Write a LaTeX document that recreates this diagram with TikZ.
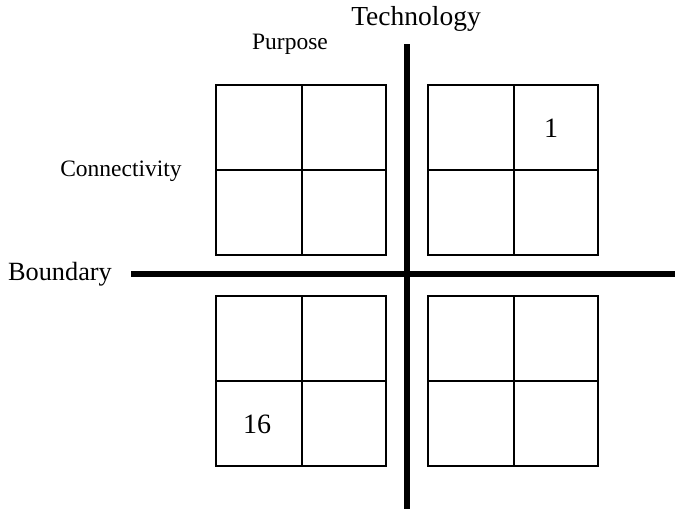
\documentclass[tikz,border=0pt]{standalone}
\usepackage{fontspec}
\setmainfont{Liberation Serif}
\begin{document}
\begin{tikzpicture}[x=1pt,y=-1pt,
  axis/.style={line width=5.5pt},
  cellgrid/.style={line width=1.8pt},
  lbl/.style={inner sep=0pt,font=\fontsize{23.5}{26}\selectfont},
  techlbl/.style={inner sep=0pt,font=\fontsize{27.5}{30}\selectfont},
  boundlbl/.style={inner sep=0pt,font=\fontsize{26.3}{29}\selectfont},
  num/.style={inner sep=0pt,font=\fontsize{28}{30}\selectfont}]
\useasboundingbox (0,0) rectangle (675,509);
% the two crossing axes
\coordinate (vtop) at (407,44);
\coordinate (vbot) at (407,509);
\coordinate (hleft) at (131,274);
\coordinate (hright) at (675,274);
\draw[axis] (vtop) -- (vbot);
\draw[axis] (hleft) -- (hright);
% four 2x2 grids, one per quadrant
\foreach \x/\y in {216/85, 428/85, 216/296, 428/296}{
  \draw[cellgrid] (\x,\y) rectangle ++(170,170);
  \draw[cellgrid] (\x+86,\y) -- ++(0,170);
  \draw[cellgrid] (\x,\y+85) -- ++(170,0);
}
% labels
\node[techlbl] (tech) at (416,19) {Technology};
\node[lbl] (purp) at (290,44) {Purpose};
\node[lbl] (conn) at (121,171) {Connectivity};
\node[boundlbl] (bound) at (60,274) {Boundary};
\node[num] (one) at (551,128) {1};
\node[num] (sixteen) at (257,424) {16};
\end{tikzpicture}
\end{document}
